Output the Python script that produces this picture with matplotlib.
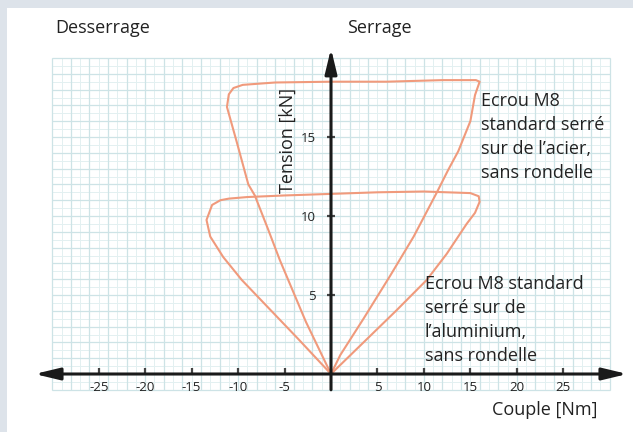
import numpy as np
import matplotlib
matplotlib.use("Agg")
import matplotlib.pyplot as plt
from matplotlib.patches import Rectangle

plt.rcParams['font.family'] = ['Open Sans', 'DejaVu Sans']

# ---- data ----
steel_couple = [0, 1.0, 3.5, 6.35, 8.9, 11.4, 12.6, 13.7, 15.0, 15.5, 16.0, 15.6,
                12.0, 6.0, 0.0, -6.0, -9.5, -10.5, -11.0, -11.2, -10.2, -8.9,
                -8.2, -6.8, -5.5, -2.7, 0]
steel_tension = [0, 1.2, 3.5, 6.2, 8.7, 11.5, 12.9, 14.1, 16.0, 17.65, 18.5, 18.6,
                 18.6, 18.5, 18.5, 18.45, 18.3, 18.1, 17.7, 16.9, 14.8, 12.0,
                 11.3, 9.2, 7.2, 3.3, 0]

alu_couple = [0, 3.5, 7.0, 10.3, 12.45, 14.6, 15.5, 16.0, 15.9, 15.0, 10.0, 5.0,
              0.0, -5.0, -9.0, -11.0, -11.9, -12.8, -13.4, -13.0, -11.6, -9.6,
              -7.0, -3.5, 0]
alu_tension = [0, 2.0, 4.0, 5.95, 7.6, 9.5, 10.2, 10.9, 11.25, 11.45, 11.55, 11.5,
               11.4, 11.3, 11.2, 11.1, 11.0, 10.7, 9.75, 8.7, 7.4, 5.95,
               4.35, 2.2, 0]

x_ticks = [-25, -20, -15, -10, -5, 5, 10, 15, 20, 25]
y_ticks = [5, 10, 15]

W, H = 633, 432
fig = plt.figure(figsize=(W / 100, H / 100), dpi=100)
fig.patch.set_facecolor('#dde3ea')
bg = Rectangle((7 / W, 0), 1 - 7 / W, 1 - 8 / H, transform=fig.transFigure,
               facecolor='white', edgecolor='none', zorder=-10)
fig.add_artist(bg)

# pixel mapping: origin (331, 374) ; 9.29 px/Nm ; 15.8 px/kN
ox, oy, sx, sy = 331.0, 374.0, 9.29, 15.8
xl, xr = -33.0, 33.0
yb, yt = -1.6, 21.2
left = (ox + xl * sx) / W
width = (xr - xl) * sx / W
bottom = (H - (oy - yb * sy)) / H
height = (yt - yb) * sy / H
ax = fig.add_axes([left, bottom, width, height])
ax.set_zorder(1)
ax.set_xlim(xl, xr)
ax.set_ylim(yb, yt)
ax.patch.set_alpha(0)

# graph-paper grid
minor_c = '#e3f0f1'
major_c = '#cde3e6'
ax.vlines(np.arange(-30, 30.01, 1), -1, 20, colors=minor_c, lw=0.7, zorder=1)
ax.hlines(np.arange(-1, 20.01, 0.5), -30, 30, colors=minor_c, lw=0.7, zorder=1)
ax.vlines(np.arange(-30, 30.01, 2), -1, 20, colors=major_c, lw=0.9, zorder=1)
ax.hlines(np.arange(-1, 20.01, 1), -30, 30, colors=major_c, lw=0.9, zorder=1)

# curves
curve_c = '#f09a7c'
ax.plot(steel_couple, steel_tension, color=curve_c, lw=1.5, solid_joinstyle='round', zorder=3)
ax.plot(alu_couple, alu_tension, color=curve_c, lw=1.5, solid_joinstyle='round', zorder=3)

# axes with arrows
axis_c = '#1a1a1a'
ax.annotate('', xy=(31.9, 0), xytext=(-31.9, 0), annotation_clip=False,
            arrowprops=dict(arrowstyle='<|-|>,head_length=1.5,head_width=0.36',
                            mutation_scale=10, lw=2.2, color=axis_c, shrinkA=0, shrinkB=0),
            zorder=5)
ax.annotate('', xy=(0, 20.6), xytext=(0, -1.0), annotation_clip=False,
            arrowprops=dict(arrowstyle='-|>,head_length=1.5,head_width=0.36',
                            mutation_scale=10, lw=2.2, color=axis_c, shrinkA=0, shrinkB=0),
            zorder=5)

for s in ['top', 'right']:
    ax.spines[s].set_visible(False)
ax.spines['bottom'].set_position(('data', 0))
ax.spines['left'].set_position(('data', 0))
ax.spines['bottom'].set_visible(False)
ax.spines['left'].set_visible(False)

ax.set_xticks(x_ticks)
ax.set_xticklabels([str(v) for v in x_ticks])
ax.set_yticks(y_ticks)
ax.set_yticklabels([str(v) for v in y_ticks])
ax.tick_params(axis='x', direction='in', length=4, width=1.6, color='#444444',
               labelsize=9.5, labelcolor='#222222', pad=5)
ax.tick_params(axis='y', direction='inout', length=6, width=1.6, color='#444444',
               labelsize=9.5, labelcolor='#222222', pad=8)

txt_c = '#222222'
ax.text(-4.65, 14.8, 'Tension [kN]', rotation=90, ha='center', va='center',
        fontsize=13, color=txt_c, zorder=6)

fig.text(55 / W, 1 - 28 / H, 'Desserrage', ha='left', va='center', fontsize=13, color=txt_c)
fig.text(347 / W, 1 - 28 / H, 'Serrage', ha='left', va='center', fontsize=13, color=txt_c)
fig.text(598 / W, 1 - 410 / H, 'Couple [Nm]', ha='right', va='center', fontsize=13, color=txt_c)
fig.text(481 / W, 1 - 92 / H, 'Ecrou M8\nstandard serré\nsur de l\u2019acier,\nsans rondelle',
         ha='left', va='top', fontsize=13, color=txt_c, linespacing=1.42)
fig.text(425 / W, 1 - 275 / H, 'Ecrou M8 standard\nserré sur de\nl\u2019aluminium,\nsans rondelle',
         ha='left', va='top', fontsize=13, color=txt_c, linespacing=1.42)

fig.savefig('out.png', dpi=100, facecolor=fig.get_facecolor())
